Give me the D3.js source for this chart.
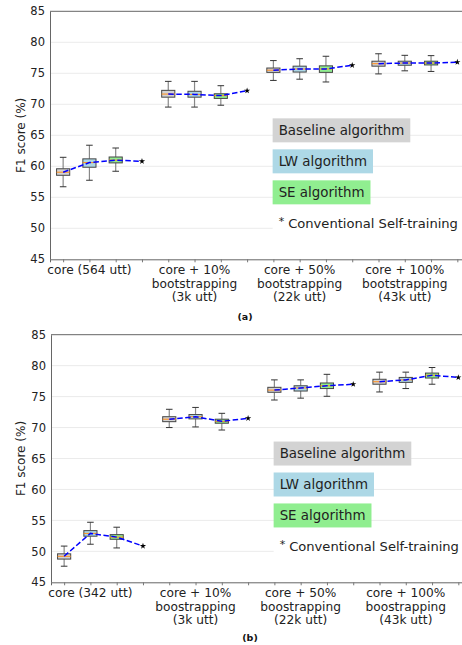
<!DOCTYPE html>
<html>
<head>
<meta charset="utf-8">
<script src="https://cdn.jsdelivr.net/npm/d3@7"></script>
<style>
  body { margin: 0; background: #fff; }
  svg { display: block; font-family: "DejaVu Sans", sans-serif; }
</style>
</head>
<body>
<div id="chart"></div>
<script>
// tick labels (one per group, "\n" = line break)
const groupLabelsA = ["core (564 utt)", "core + 10%\nbootstrapping\n(3k utt)", "core + 50%\nbootstrapping\n(22k utt)", "core + 100%\nbootstrapping\n(43k utt)"];
const groupLabelsB = ["core (342 utt)", "core + 10%\nboostrapping\n(3k utt)", "core + 50%\nboostrapping\n(22k utt)", "core + 100%\nboostrapping\n(43k utt)"];
const yTicks = [45, 50, 55, 60, 65, 70, 75, 80, 85];
const seriesNames = ["Baseline algorithm", "LW algorithm", "SE algorithm"];
const legendStar = "Conventional Self-training";

// box stats per group: [whisker low, q1, median, q3, whisker high]
const baselineA = [[56.7, 58.55, 59.05, 59.6, 61.45], [69.55, 71.15, 71.65, 72.25, 73.7], [73.85, 75.15, 75.5, 75.85, 77.05], [74.9, 76.15, 76.55, 76.95, 78.15]];
const lwA = [[57.75, 59.85, 60.6, 61.2, 63.4], [69.55, 71.15, 71.6, 72.1, 73.7], [74.05, 75.2, 75.7, 76.15, 77.35], [75.4, 76.3, 76.65, 76.95, 77.9]];
const seA = [[59.2, 60.55, 61.0, 61.5, 62.95], [69.85, 70.95, 71.4, 71.7, 73.0], [73.6, 75.15, 75.7, 76.2, 77.75], [75.3, 76.35, 76.65, 76.95, 77.85]];
const conventionalA = [60.8, 72.2, 76.3, 76.8];

const baselineB = [[47.6, 48.75, 49.2, 49.6, 50.85], [70.0, 70.95, 71.35, 71.75, 72.95], [74.45, 75.7, 76.05, 76.5, 77.7], [75.75, 77.0, 77.4, 77.8, 78.95]];
const lwB = [[51.15, 52.45, 52.9, 53.35, 54.7], [70.1, 71.4, 71.75, 72.1, 73.25], [74.75, 75.9, 76.4, 76.75, 77.7], [76.3, 77.3, 77.7, 78.1, 78.95]];
const seB = [[50.55, 51.95, 52.3, 52.7, 53.9], [69.6, 70.7, 71.0, 71.35, 72.3], [75.05, 76.3, 76.75, 77.2, 78.6], [77.0, 78.0, 78.45, 78.8, 79.7]];
const conventionalB = [50.85, 71.5, 77.0, 78.1];

const fills = ["#d3d3d3", "#add8e6", "#90ee90"];

const W = 462, H = 645;
const svg = d3.select("#chart").append("svg").attr("width", W).attr("height", H);

function drawPanel(cfg) {
  const x = d3.scaleLinear().domain([0.5, 16.5]).range([cfg.left, cfg.left + 16 * 26.28]);
  const y = d3.scaleLinear().domain([45, 85]).range([cfg.bottom, cfg.top]);
  const g = svg.append("g");

  // grid
  g.selectAll(".grid").data(yTicks.slice(1, -1)).enter().append("line")
    .attr("x1", cfg.left).attr("x2", x.range()[1])
    .attr("y1", d => y(d)).attr("y2", d => y(d))
    .attr("stroke", "#ebebeb").attr("stroke-width", 1);

  // y axis
  const ya = g.append("g").attr("transform", `translate(${cfg.left},0)`)
    .call(d3.axisLeft(y).tickValues(yTicks).tickSize(0).tickPadding(5));
  ya.select(".domain").attr("stroke", "#666");
  ya.selectAll("text").attr("font-size", 11.5).attr("fill", "#222").attr("font-family", "DejaVu Sans");

  // top spine
  g.append("line").attr("x1", cfg.left).attr("x2", x.range()[1])
    .attr("y1", cfg.top).attr("y2", cfg.top).attr("stroke", "#666");

  // x axis
  const xa = g.append("g").attr("transform", `translate(0,${cfg.bottom})`)
    .call(d3.axisBottom(x).tickValues(d3.range(1, 17)).tickSize(3).tickFormat(""));
  xa.select(".domain").attr("stroke", "#666");
  xa.selectAll(".tick line").attr("stroke", "#777");

  cfg.labels.forEach((lab, i) => {
    const t = g.append("text").attr("x", x(i * 4 + 2)).attr("y", cfg.bottom + 15)
      .attr("text-anchor", "middle").attr("font-size", 12.2).attr("fill", "#222");
    lab.split("\n").forEach((line, j) => {
      t.append("tspan").attr("x", x(i * 4 + 2)).attr("dy", j === 0 ? 0 : 13.4).text(line);
    });
  });

  // y label
  g.append("text")
    .attr("transform", `translate(24.5,${(cfg.top + cfg.bottom) / 2}) rotate(-90)`)
    .attr("text-anchor", "middle").attr("font-size", 12).attr("fill", "#222")
    .text("F1 score (%)");

  // boxes
  const bw = 0.5;
  cfg.series.forEach((ser, s) => {
    ser.forEach((st, gi) => {
      const p = gi * 4 + s + 1;
      const bx = g.append("g");
      bx.append("line").attr("x1", x(p)).attr("x2", x(p)).attr("y1", y(st[0])).attr("y2", y(st[1]))
        .attr("stroke", "#888").attr("stroke-width", 1.2);
      bx.append("line").attr("x1", x(p)).attr("x2", x(p)).attr("y1", y(st[3])).attr("y2", y(st[4]))
        .attr("stroke", "#888").attr("stroke-width", 1.2);
      [st[0], st[4]].forEach(v => {
        bx.append("line").attr("x1", x(p - bw / 4)).attr("x2", x(p + bw / 4))
          .attr("y1", y(v)).attr("y2", y(v)).attr("stroke", "#333").attr("stroke-width", 1);
      });
      bx.append("rect").attr("x", x(p - bw / 2)).attr("width", x(p + bw / 2) - x(p - bw / 2))
        .attr("y", y(st[3])).attr("height", y(st[1]) - y(st[3]))
        .attr("fill", fills[s]).attr("stroke", "#444").attr("stroke-width", 1);
      bx.append("line").attr("x1", x(p - bw / 2)).attr("x2", x(p + bw / 2))
        .attr("y1", y(st[2])).attr("y2", y(st[2])).attr("stroke", "#ff8c1a").attr("stroke-width", 1);
    });
  });

  // dashed median line + conventional star
  cfg.conv.forEach((cv, gi) => {
    const pts = cfg.series.map((ser, s) => [gi * 4 + s + 1, ser[gi][2]]);
    pts.push([gi * 4 + 4, cv]);
    g.append("path")
      .attr("d", d3.line().x(d => x(d[0])).y(d => y(d[1]))(pts))
      .attr("fill", "none").attr("stroke", "#0000ff").attr("stroke-width", 1.5)
      .attr("stroke-dasharray", "5.5,2.5");
    g.append("path")
      .attr("transform", `translate(${x(gi * 4 + 4)},${y(cv)})`)
      .attr("d", d3.symbol(d3.symbolStar, 12)())
      .attr("fill", "#000");
  });

  // legend
  const legY = [65.8, 60.8, 55.8];
  seriesNames.forEach((nm, i) => {
    const lg = g.append("g");
    const r = lg.append("rect");
    const t = lg.append("text").attr("x", x(9.2)).attr("y", y(legY[i]) + 4.8)
      .attr("font-size", 13.4).attr("fill", "#222").text(nm);
    const w = t.node().getComputedTextLength();
    r.attr("x", x(9.2) - 6).attr("y", y(legY[i]) - 12).attr("width", w + 12).attr("height", 24)
      .attr("fill", fills[i]);
  });
  const cy = y(50.85);
  g.append("rect").attr("x", x(9.2) - 6).attr("y", cy - 11.5).attr("width", 200).attr("height", 23)
    .attr("fill", "#fff");
  g.append("text").attr("x", x(9.2)).attr("y", cy + 1.5).attr("font-size", 11).attr("fill", "#222").text("*");
  g.append("text").attr("x", x(9.2) + 9.5).attr("y", cy + 4.8).attr("font-size", 13.1).attr("fill", "#222").text(legendStar);

  // caption
  svg.append("text").attr("x", cfg.capX).attr("y", cfg.capY).attr("text-anchor", "middle")
    .attr("font-size", 9.5).attr("font-weight", "bold").attr("fill", "#111").text(cfg.caption);
}

drawPanel({ top: 11.3, bottom: 259.3, left: 50, labels: groupLabelsA, series: [baselineA, lwA, seA], conv: conventionalA, caption: "(a)", capX: 245, capY: 319.5 });
drawPanel({ top: 334.7, bottom: 582.3, left: 51, labels: groupLabelsB, series: [baselineB, lwB, seB], conv: conventionalB, caption: "(b)", capX: 250, capY: 640.5 });
</script>
</body>
</html>
